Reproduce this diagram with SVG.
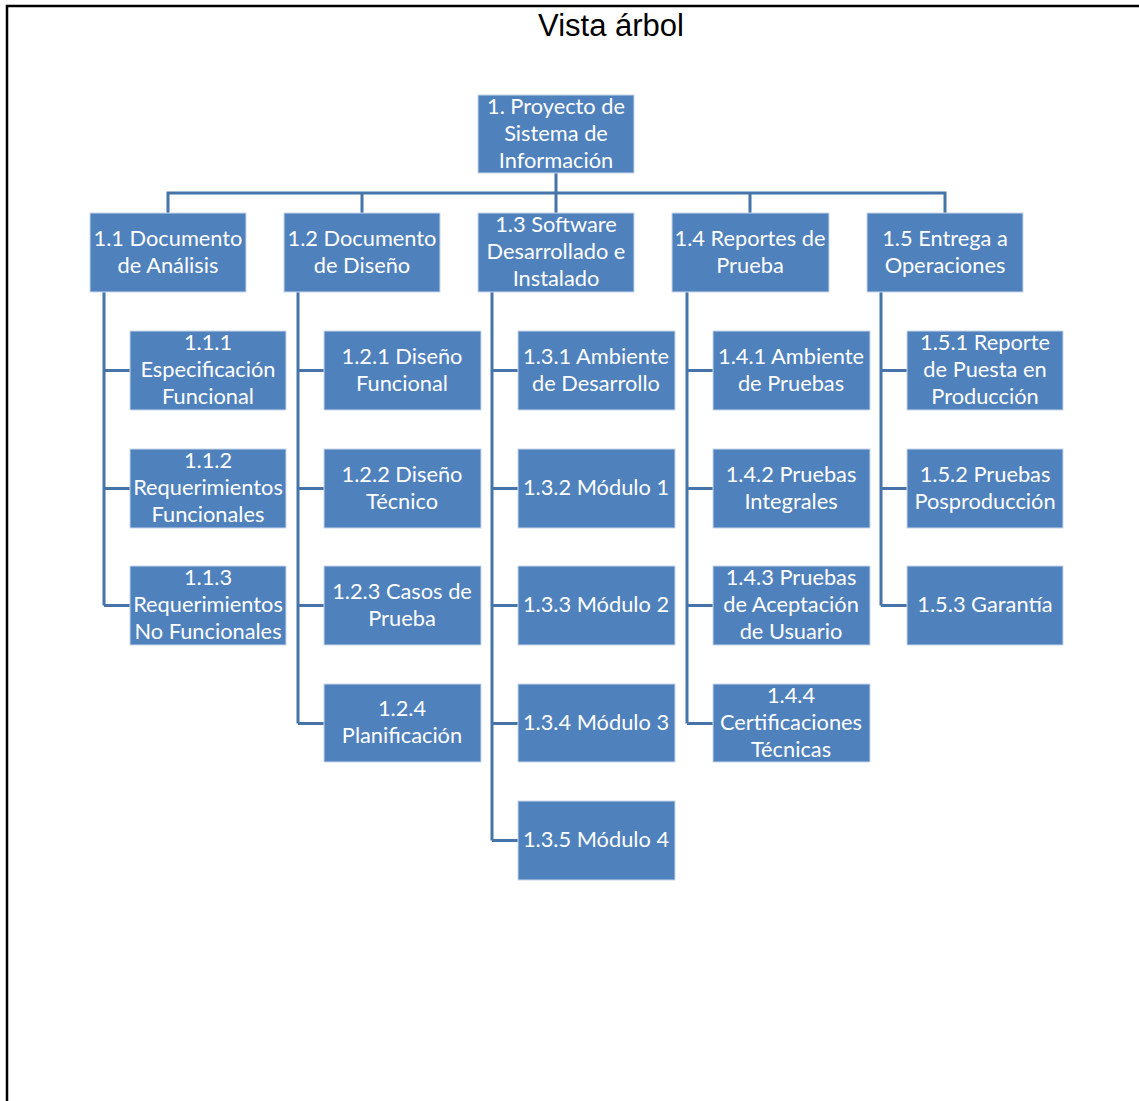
<svg xmlns="http://www.w3.org/2000/svg" width="1139" height="1101" viewBox="0 0 1139 1101">
  <style>
    .box { fill: #4F81BD; stroke: #C9D7EA; stroke-width: 1; }
    .lbl { font-family: Lato, "Open Sans", "Liberation Sans", sans-serif; font-size: 21.8px; fill: #FFFFFF; text-anchor: middle; }
    .link { fill: none; stroke: #4674AA; stroke-width: 3; }
    .title { font-family: "Liberation Sans", Arial, sans-serif; font-size: 31px; fill: #000000; text-anchor: middle; }
  </style>
  <rect x="0" y="0" width="1139" height="1101" fill="#FFFFFF"/>
  <!-- outer frame -->
  <path d="M7,1101 V6 H1139" fill="none" stroke="#000000" stroke-width="2.5"/>
  <text class="title" x="611" y="36">Vista árbol</text>

  <!-- connectors -->
  <g id="connectors" class="link">
    <path d="M556,173 V193"/>
    <path d="M168,213 V193 H945 V213"/>
    <path d="M362,193 V213 M556,193 V213 M750,193 V213"/>
    <!-- 1.1 children -->
    <path d="M130,370.5 H104 V292 M104,488.5 H130 M104,605.5 H130 M104,370 V605.5"/>
    <!-- 1.2 children -->
    <path d="M324,370.5 H298 V292 M298,488.5 H324 M298,605.5 H324 M298,723.5 H324 M298,370 V723.5"/>
    <!-- 1.3 children -->
    <path d="M518,370.5 H492 V292 M492,488.5 H518 M492,605.5 H518 M492,723.5 H518 M492,840.5 H518 M492,370 V840.5"/>
    <!-- 1.4 children -->
    <path d="M713,370.5 H687 V292 M687,488.5 H713 M687,605.5 H713 M687,723.5 H713 M687,370 V723.5"/>
    <!-- 1.5 children -->
    <path d="M907,370.5 H881 V292 M881,488.5 H907 M881,605.5 H907 M881,370 V605.5"/>
  </g>

  <!-- root -->
  <g id="n1">
    <rect class="box" x="478" y="95" width="156" height="78"/>
    <text class="lbl" x="556" y="114">1. Proyecto de</text>
    <text class="lbl" x="556" y="141">Sistema de</text>
    <text class="lbl" x="556" y="168">Información</text>
  </g>

  <!-- level 2 -->
  <g id="n1_1">
    <rect class="box" x="90" y="213" width="156" height="79"/>
    <text class="lbl" x="168" y="246">1.1 Documento</text>
    <text class="lbl" x="168" y="273">de Análisis</text>
  </g>
  <g id="n1_2">
    <rect class="box" x="284" y="213" width="156" height="79"/>
    <text class="lbl" x="362" y="246">1.2 Documento</text>
    <text class="lbl" x="362" y="273">de Diseño</text>
  </g>
  <g id="n1_3">
    <rect class="box" x="478" y="213" width="156" height="79"/>
    <text class="lbl" x="556" y="232">1.3 Software</text>
    <text class="lbl" x="556" y="259">Desarrollado e</text>
    <text class="lbl" x="556" y="286">Instalado</text>
  </g>
  <g id="n1_4">
    <rect class="box" x="672" y="213" width="157" height="79"/>
    <text class="lbl" x="750" y="246">1.4 Reportes de</text>
    <text class="lbl" x="750" y="273">Prueba</text>
  </g>
  <g id="n1_5">
    <rect class="box" x="867" y="213" width="156" height="79"/>
    <text class="lbl" x="945" y="246">1.5 Entrega a</text>
    <text class="lbl" x="945" y="273">Operaciones</text>
  </g>

  <!-- 1.1 branch -->
  <g id="n1_1_1">
    <rect class="box" x="130" y="331" width="156" height="79"/>
    <text class="lbl" x="208" y="350">1.1.1</text>
    <text class="lbl" x="208" y="377">Especificación</text>
    <text class="lbl" x="208" y="404">Funcional</text>
  </g>
  <g id="n1_1_2">
    <rect class="box" x="130" y="449" width="156" height="79"/>
    <text class="lbl" x="208" y="468">1.1.2</text>
    <text class="lbl" x="208" y="495">Requerimientos</text>
    <text class="lbl" x="208" y="522">Funcionales</text>
  </g>
  <g id="n1_1_3">
    <rect class="box" x="130" y="566" width="156" height="79"/>
    <text class="lbl" x="208" y="585">1.1.3</text>
    <text class="lbl" x="208" y="612">Requerimientos</text>
    <text class="lbl" x="208" y="639">No Funcionales</text>
  </g>

  <!-- 1.2 branch -->
  <g id="n1_2_1">
    <rect class="box" x="324" y="331" width="157" height="79"/>
    <text class="lbl" x="402" y="364">1.2.1 Diseño</text>
    <text class="lbl" x="402" y="391">Funcional</text>
  </g>
  <g id="n1_2_2">
    <rect class="box" x="324" y="449" width="157" height="79"/>
    <text class="lbl" x="402" y="482">1.2.2 Diseño</text>
    <text class="lbl" x="402" y="509">Técnico</text>
  </g>
  <g id="n1_2_3">
    <rect class="box" x="324" y="566" width="157" height="79"/>
    <text class="lbl" x="402" y="599">1.2.3 Casos de</text>
    <text class="lbl" x="402" y="626">Prueba</text>
  </g>
  <g id="n1_2_4">
    <rect class="box" x="324" y="684" width="157" height="78"/>
    <text class="lbl" x="402" y="716">1.2.4</text>
    <text class="lbl" x="402" y="743">Planificación</text>
  </g>

  <!-- 1.3 branch -->
  <g id="n1_3_1">
    <rect class="box" x="518" y="331" width="157" height="79"/>
    <text class="lbl" x="596" y="364">1.3.1 Ambiente</text>
    <text class="lbl" x="596" y="391">de Desarrollo</text>
  </g>
  <g id="n1_3_2">
    <rect class="box" x="518" y="449" width="157" height="79"/>
    <text class="lbl" x="596" y="495">1.3.2 Módulo 1</text>
  </g>
  <g id="n1_3_3">
    <rect class="box" x="518" y="566" width="157" height="79"/>
    <text class="lbl" x="596" y="612">1.3.3 Módulo 2</text>
  </g>
  <g id="n1_3_4">
    <rect class="box" x="518" y="684" width="157" height="78"/>
    <text class="lbl" x="596" y="730">1.3.4 Módulo 3</text>
  </g>
  <g id="n1_3_5">
    <rect class="box" x="518" y="801" width="157" height="79"/>
    <text class="lbl" x="596" y="847">1.3.5 Módulo 4</text>
  </g>

  <!-- 1.4 branch -->
  <g id="n1_4_1">
    <rect class="box" x="713" y="331" width="157" height="79"/>
    <text class="lbl" x="791" y="364">1.4.1 Ambiente</text>
    <text class="lbl" x="791" y="391">de Pruebas</text>
  </g>
  <g id="n1_4_2">
    <rect class="box" x="713" y="449" width="157" height="79"/>
    <text class="lbl" x="791" y="482">1.4.2 Pruebas</text>
    <text class="lbl" x="791" y="509">Integrales</text>
  </g>
  <g id="n1_4_3">
    <rect class="box" x="713" y="566" width="157" height="79"/>
    <text class="lbl" x="791" y="585">1.4.3 Pruebas</text>
    <text class="lbl" x="791" y="612">de Aceptación</text>
    <text class="lbl" x="791" y="639">de Usuario</text>
  </g>
  <g id="n1_4_4">
    <rect class="box" x="713" y="684" width="157" height="78"/>
    <text class="lbl" x="791" y="703">1.4.4</text>
    <text class="lbl" x="791" y="730">Certificaciones</text>
    <text class="lbl" x="791" y="757">Técnicas</text>
  </g>

  <!-- 1.5 branch -->
  <g id="n1_5_1">
    <rect class="box" x="907" y="331" width="156" height="79"/>
    <text class="lbl" x="985" y="350">1.5.1 Reporte</text>
    <text class="lbl" x="985" y="377">de Puesta en</text>
    <text class="lbl" x="985" y="404">Producción</text>
  </g>
  <g id="n1_5_2">
    <rect class="box" x="907" y="449" width="156" height="79"/>
    <text class="lbl" x="985" y="482">1.5.2 Pruebas</text>
    <text class="lbl" x="985" y="509">Posproducción</text>
  </g>
  <g id="n1_5_3">
    <rect class="box" x="907" y="566" width="156" height="79"/>
    <text class="lbl" x="985" y="612">1.5.3 Garantía</text>
  </g>
</svg>
